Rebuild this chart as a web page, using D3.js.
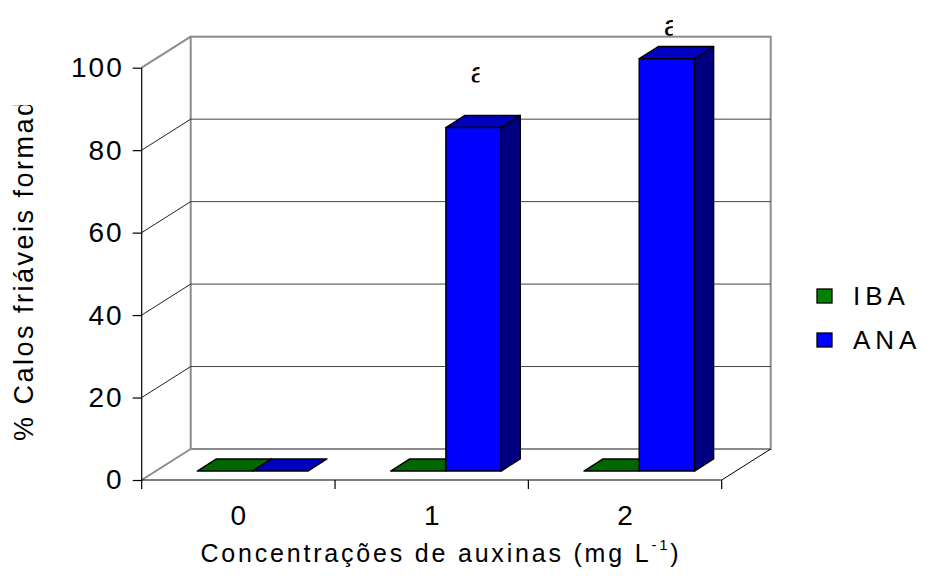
<!DOCTYPE html>
<html>
<head>
<meta charset="utf-8">
<script src="https://cdn.jsdelivr.net/npm/d3@7"></script>
<style>
  body { margin: 0; background: #fff; }
  text { font-family: "Liberation Sans", Arial, sans-serif; fill: #000; }
</style>
</head>
<body>
<div id="chart"></div>
<script>
// dados
var categories = ["0", "1", "2"];
var seriesNames = ["IBA", "ANA"];
var ibaValues = [0, 0, 0];
var anaValues = [0, 83.3, 100];
var yTicks = [0, 20, 40, 60, 80, 100];
var barLetters = ["", "a", "a"];   // letra sobre a barra ANA

var W = 927, H = 581;
// plano frontal
var plotL = 141.7, plotR = 721.7, plotB = 480, plotT = 67.7;
// profundidade 3D
var DX = 49, DY = -31;
var d0 = 0.29, d1 = 0.68;   // faixa de profundidade das barras

var colors = {
  IBA: { front: "#008000", top: "#006600", side: "#004d00" },
  ANA: { front: "#0000ff", top: "#0000c0", side: "#000080" }
};

var svg = d3.select("#chart").append("svg").attr("width", W).attr("height", H);
var defs = svg.append("defs");

var x0 = d3.scaleBand().domain(categories).range([plotL, plotR]);
var y = d3.scaleLinear().domain([0, 100]).range([plotB, plotT]);
var barW = x0.bandwidth() / (seriesNames.length + 1.5);
var xs = d3.scaleBand().domain(seriesNames).range([0, barW * seriesNames.length]);

function pt(px, py, d) { return [px + DX * d, py + DY * d]; }
function poly(points) { return "M" + points.map(function (p) { return p.join(","); }).join("L") + "Z"; }

// paredes
var wall = svg.append("g");
// parede do fundo
wall.append("rect").attr("x", plotL + DX).attr("y", plotT + DY)
    .attr("width", plotR - plotL).attr("height", plotB - plotT)
    .attr("fill", "#fff").attr("stroke", "#8c8c8c").attr("stroke-width", 2);
// linhas de grade (fundo + parede lateral)
yTicks.filter(function (t) { return t > 0 && t < 100; }).forEach(function (t) {
  wall.append("line").attr("x1", plotL + DX).attr("x2", plotR + DX)
      .attr("y1", y(t) + DY).attr("y2", y(t) + DY)
      .attr("stroke", "#444").attr("stroke-width", 1);
  wall.append("line").attr("x1", plotL).attr("x2", plotL + DX)
      .attr("y1", y(t)).attr("y2", y(t) + DY)
      .attr("stroke", "#222").attr("stroke-width", 1);
});
// bordas cinzas
wall.append("line").attr("x1", plotL).attr("y1", y(100)).attr("x2", plotL + DX).attr("y2", y(100) + DY)
    .attr("stroke", "#8c8c8c").attr("stroke-width", 2);
wall.append("line").attr("x1", plotL).attr("y1", y(0)).attr("x2", plotL + DX).attr("y2", y(0) + DY)
    .attr("stroke", "#8c8c8c").attr("stroke-width", 2);
// piso: borda direita
wall.append("line").attr("x1", plotR).attr("y1", y(0)).attr("x2", plotR + DX).attr("y2", y(0) + DY)
    .attr("stroke", "#000").attr("stroke-width", 1);

// eixos
svg.append("line").attr("x1", plotL).attr("x2", plotL).attr("y1", y(100)).attr("y2", y(0))
    .attr("stroke", "#000").attr("stroke-width", 1.2);
svg.append("line").attr("x1", plotL).attr("x2", plotR).attr("y1", y(0)).attr("y2", y(0))
    .attr("stroke", "#000").attr("stroke-width", 1.2);

var yAxis = d3.axisLeft(y).tickValues(yTicks).tickSize(9).tickPadding(9);
var gy = svg.append("g").attr("transform", "translate(" + plotL + ",0)").call(yAxis);
gy.select(".domain").remove();
gy.selectAll(".tick line").attr("stroke", "#000").attr("stroke-width", 1.2);
gy.selectAll(".tick text").attr("font-size", 28).attr("letter-spacing", 2)
    .attr("font-family", "Liberation Sans, Arial, sans-serif").attr("fill", "#000");

var tickPos = categories.map(function (c) { return x0(c); }).concat([plotR]);
svg.selectAll(".xtick").data(tickPos).enter().append("line")
    .attr("x1", function (d) { return d; }).attr("x2", function (d) { return d; })
    .attr("y1", y(0)).attr("y2", y(0) + 9)
    .attr("stroke", "#000").attr("stroke-width", 1.2);
svg.selectAll(".xlab").data(categories).enter().append("text")
    .attr("x", function (d) { return x0(d) + x0.bandwidth() / 2; })
    .attr("y", 525).attr("text-anchor", "middle").attr("font-size", 28)
    .text(function (d) { return d; });

// barras
var data = [];
categories.forEach(function (c, i) {
  data.push({ cat: c, s: "IBA", v: ibaValues[i] });
  data.push({ cat: c, s: "ANA", v: anaValues[i] });
});
var gBars = svg.append("g");
data.forEach(function (d) {
  var xl = x0(d.cat) + x0.bandwidth() / 2 - barW + xs(d.s);
  var xr = xl + barW;
  var yb = y(0), yt = y(d.v);
  var c = colors[d.s];
  var g = gBars.append("g").attr("stroke", "#000").attr("stroke-width", 1.5).attr("stroke-linejoin", "round");
  if (d.v > 0) {
    g.append("path").attr("d", poly([pt(xr, yb, d0), pt(xr, yb, d1), pt(xr, yt, d1), pt(xr, yt, d0)]))
        .attr("fill", c.side);
  }
  g.append("path").attr("d", poly([pt(xl, yt, d0), pt(xr, yt, d0), pt(xr, yt, d1), pt(xl, yt, d1)]))
      .attr("fill", c.top);
  if (d.v > 0) {
    g.append("path").attr("d", poly([pt(xl, yb, d0), pt(xr, yb, d0), pt(xr, yt, d0), pt(xl, yt, d0)]))
        .attr("fill", c.front);
  }
});

// letras sobre as barras (cortadas como no original)
var labelLift = [0, 55, 33];
categories.forEach(function (c, i) {
  if (!barLetters[i]) return;
  var xl = x0(c) + x0.bandwidth() / 2 + d0 * DX;
  var cx = xl + barW / 2;
  var ly = y(anaValues[i]) + DY * d0 - labelLift[i];
  defs.append("clipPath").attr("id", "clipL" + i).append("rect")
      .attr("x", cx - 10).attr("y", ly - 30).attr("width", 16).attr("height", 40);
  svg.append("g").attr("clip-path", "url(#clipL" + i + ")")
    .append("text")
      .attr("x", cx - 3).attr("y", ly + 10)
      .attr("font-size", 30).text(barLetters[i]);
});

// legenda
var leg = svg.append("g").attr("transform", "translate(817,289)");
seriesNames.forEach(function (s, i) {
  var row = leg.append("g").attr("transform", "translate(0," + (i * 44) + ")");
  row.append("rect").attr("width", 15).attr("height", 14)
      .attr("fill", colors[s].front).attr("stroke", "#000").attr("stroke-width", 1.3);
  row.append("text").attr("x", 36).attr("y", 16).attr("font-size", 26)
      .attr("letter-spacing", 5).text(s);
});

// titulo eixo x
var xt = svg.append("text").attr("x", 441).attr("y", 562).attr("text-anchor", "middle")
    .attr("font-size", 25).attr("letter-spacing", 2.8);
xt.append("tspan").text("Concentrações de auxinas (mg L");
xt.append("tspan").attr("font-size", 15).attr("dy", -12).text("-1");
xt.append("tspan").attr("dy", 12).text(")");

// titulo eixo y (cortado no topo)
defs.append("clipPath").attr("id", "clipY").append("rect")
    .attr("x", 0).attr("y", 105).attr("width", 60).attr("height", 400);
svg.append("g").attr("clip-path", "url(#clipY)")
  .append("text")
    .attr("transform", "translate(33,441) rotate(-90)")
    .attr("font-size", 27).attr("letter-spacing", 2.5)
    .text("% Calos friáveis formados");
</script>
</body>
</html>
